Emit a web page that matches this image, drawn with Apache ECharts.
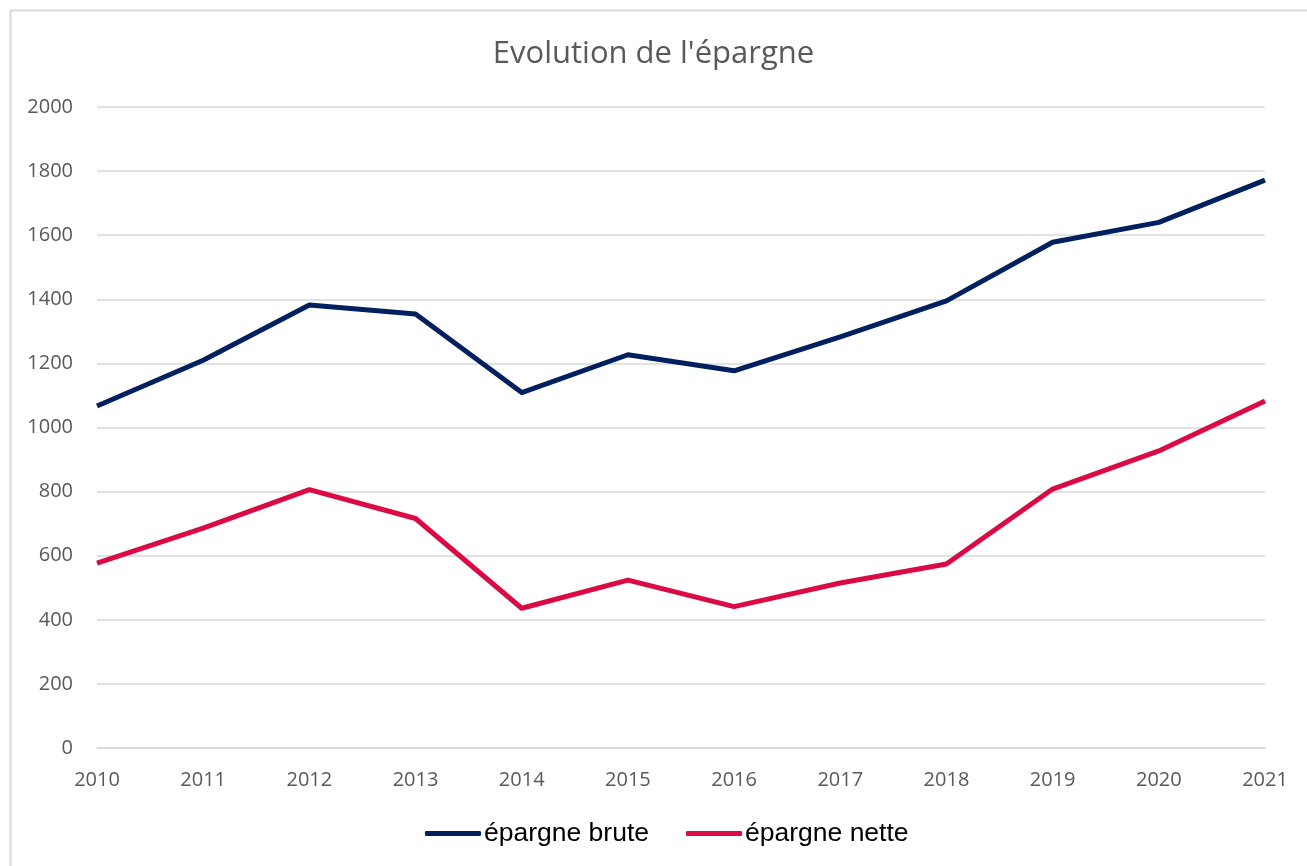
<!DOCTYPE html>
<html>
<head>
<meta charset="utf-8">
<script src="https://cdn.jsdelivr.net/npm/echarts@6/dist/echarts.min.js"></script>
<style>
html,body{margin:0;padding:0;background:#fff;}
#chart{width:1307px;height:866px;}
</style>
</head>
<body>
<div id="chart"></div>
<script>
const years = ['2010','2011','2012','2013','2014','2015','2016','2017','2018','2019','2020','2021'];
const epargneBrute = [1067, 1210, 1382, 1354, 1109, 1227, 1177, 1283, 1395, 1578, 1640, 1772];
const epargneNette = [577, 686, 806, 716, 436, 524, 441, 515, 574, 808, 927, 1083];
const seriesNames = ['épargne brute', 'épargne nette'];
const titleText = "Evolution de l'épargne";

const chart = echarts.init(document.getElementById('chart'));
const tickFont = '"Open Sans", Lato, sans-serif';
chart.setOption({
  animation: false,
  backgroundColor: '#ffffff',
  graphic: [{
    type: 'rect', left: 8, top: 8,
    shape: { width: 1320, height: 880 },
    style: { fill: 'none', stroke: '#d9d9d9', lineWidth: 2 },
    silent: true, z: -1
  }],
  title: {
    text: titleText,
    left: 'center', top: 34,
    textStyle: { fontFamily: tickFont, fontSize: 31, fontWeight: 'normal', color: '#595959' }
  },
  legend: {
    bottom: 14,
    left: 420,
    icon: 'roundRect',
    itemWidth: 56, itemHeight: 5,
    itemGap: 37,
    textStyle: { fontFamily: '"Liberation Sans", Arial, sans-serif', fontSize: 26.5, color: '#000000', padding: [0,0,0,-2] },
    data: seriesNames
  },
  grid: { left: 97, right: 42, top: 107, bottom: 118, containLabel: false },
  xAxis: {
    type: 'category',
    data: years,
    boundaryGap: false,
    axisLine: { show: true, lineStyle: { color: '#d9d9d9', width: 1.5 } },
    axisTick: { show: false },
    axisLabel: { margin: 22, fontFamily: tickFont, fontSize: 20, color: '#595959' }
  },
  yAxis: {
    type: 'value',
    min: 0, max: 2000, interval: 200,
    axisLine: { show: false },
    axisTick: { show: false },
    axisLabel: { margin: 24, fontFamily: tickFont, fontSize: 20, color: '#595959', formatter: function (v) { return String(v); } },
    splitLine: { lineStyle: { color: '#d9d9d9', width: 1.5 } }
  },
  series: [
    {
      name: seriesNames[0], type: 'line', data: epargneBrute,
      symbol: 'none', color: '#002060',
      lineStyle: { width: 5, color: '#002060', join: 'round' }
    },
    {
      name: seriesNames[1], type: 'line', data: epargneNette,
      symbol: 'none', color: '#DC0A44',
      lineStyle: { width: 5, color: '#DC0A44', join: 'round' }
    }
  ]
});
</script>
</body>
</html>
